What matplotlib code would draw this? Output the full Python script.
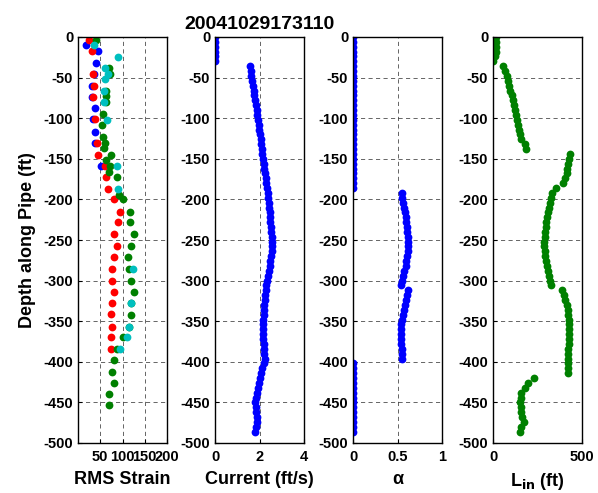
import matplotlib
matplotlib.use("Agg")
import matplotlib.pyplot as plt

plt.rcParams['font.family'] = ['Liberation Sans', 'DejaVu Sans']
plt.rcParams['font.weight'] = 'bold'
plt.rcParams['axes.labelweight'] = 'bold'
plt.rcParams['axes.titleweight'] = 'bold'
plt.rcParams['axes.unicode_minus'] = False

title = "20041029173110"

# RMS strain, four sensors (depth ft, strain)
red_depth = [-4, -17, -46, -60, -74, -101, -131, -145, -159, -172, -187, -200, -215,
             -228, -243, -258, -271, -286, -300, -314, -327, -341, -357, -370, -384]
red_strain = [24, 32, 34, 36, 33, 38, 42, 45, 61, 63, 68, 82, 95,
              90, 81, 87, 82, 77, 77, 80, 77, 74, 77, 74, 74]
blue_depth = [-10, -17, -32, -46, -60, -74, -88, -101, -117, -131, -159]
blue_strain = [19, 44, 40, 35, 32, 31, 38, 34, 38, 39, 52]
green_depth = [-4, -38, -45, -67, -73, -80, -95, -108, -123, -130, -137, -145, -152,
               -159, -166, -172, -194, -200, -215, -228, -243, -258, -271, -286,
               -300, -314, -327, -342, -357, -370, -384, -398, -413, -426, -440, -453]
green_strain = [40, 70, 72, 62, 62, 62, 57, 55, 57, 61, 58, 74, 63,
                72, 70, 87, 92, 100, 117, 117, 125, 120, 113, 114,
                118, 126, 120, 120, 115, 102, 87, 82, 77, 80, 69, 70]
cyan_depth = [-10, -25, -38, -45, -52, -67, -80, -102, -159, -187, -286, -327, -357, -370, -384]
cyan_strain = [35, 89, 61, 68, 61, 58, 58, 65, 87, 91, 123, 118, 115, 110, 95]

# profiles on a common depth grid
depth = [0, -6, -12, -18, -24, -30, -36, -42, -48, -54, -60, -66, -72, -78, -84, -90,
         -96, -102, -108, -114, -120, -126, -132, -138, -144, -150, -156, -162, -168,
         -174, -180, -186, -192, -198, -204, -210, -216, -222, -228, -234, -240, -246,
         -252, -258, -264, -270, -276, -282, -288, -294, -300, -306, -312, -318, -324,
         -330, -336, -342, -348, -354, -360, -366, -372, -378, -384, -390, -396, -402,
         -408, -414, -420, -426, -432, -438, -444, -450, -456, -462, -468, -474, -480, -486]

current = [0, 0, 0, 0, 0, 0,
           1.58, 1.61, 1.64, 1.68, 1.71, 1.74, 1.77, 1.81, 1.85, 1.88, 1.91, 1.93, 1.96,
           1.99, 2.02, 2.05, 2.08, 2.11, 2.13, 2.15, 2.18, 2.21, 2.24, 2.27, 2.30, 2.33,
           2.36, 2.39, 2.41, 2.43, 2.46, 2.47, 2.49, 2.51, 2.53, 2.55, 2.55, 2.55, 2.54,
           2.52, 2.49, 2.46, 2.42, 2.38, 2.35, 2.31, 2.28, 2.26, 2.23, 2.21, 2.19, 2.18,
           2.17, 2.17, 2.17, 2.17, 2.17, 2.18, 2.19, 2.21, 2.24, 2.19, 2.10, 2.06, 2.02,
           1.97, 1.93, 1.88, 1.84, 1.81, 1.83, 1.86, 1.88, 1.87, 1.85, 1.82]

alpha = [0, 0, 0, 0, 0, 0, 0, 0, 0, 0, 0, 0, 0, 0, 0, 0,
         0, 0, 0, 0, 0, 0, 0, 0, 0, 0, 0, 0, 0, 0, 0, 0,
         0.55, 0.555, 0.565, 0.575, 0.585, 0.59, 0.60, 0.605, 0.61, 0.615,
         0.62, 0.62, 0.615, 0.61, 0.60, 0.59, 0.575, 0.565, 0.55, 0.535,
         0.62, 0.61, 0.60, 0.585, 0.57, 0.56, 0.545, 0.54, 0.54, 0.535,
         0.54, 0.54, 0.545, 0.55, 0.555,
         0, 0, 0, 0, 0, 0, 0, 0, 0, 0, 0, 0, 0, 0, 0]

l_in = [15, 15, 15, 15, 13, 0,
        58, 70, 78, 84, 90, 98, 106, 114, 120, 124, 128, 133, 140, 147, 153, 160, 178, 185,
        433, 428, 424, 418, 414, 405, 395, 355, 330, 326, 321, 315, 310, 305, 300, 297,
        294, 290, 287, 286, 290, 294, 298, 303, 308, 316, 322, 328,
        389, 398, 406, 414, 420, 424, 426, 427, 427, 427, 426, 425, 424, 424, 424, 424,
        424, 424,
        229, 198, 180, 160, 155, 153, 155, 160, 165, 172, 160, 153]

fig = plt.figure(figsize=(5.98, 4.93), dpi=100)
W, H = 598, 493
lefts = [78, 215, 353, 493]
axes = [fig.add_axes([l / W, 1 - 443 / H, 89 / W, 406 / H]) for l in lefts]

ms = 5.6
ax = axes[0]
ax.plot(blue_strain, blue_depth, 'o', color='#0000ff', ms=ms, mew=0)
ax.plot(red_strain, red_depth, 'o', color='#ff0000', ms=ms, mew=0)
ax.plot(green_strain, green_depth, 'o', color='#008000', ms=ms, mew=0)
ax.plot(cyan_strain, cyan_depth, 'o', color='#00bfbf', ms=ms, mew=0)
ax.set_xlim(0, 200)
ax.set_xticks([50, 100, 150, 200])
ax.set_xlabel('RMS Strain')
ax.set_ylabel('Depth along Pipe (ft)', fontsize=13, labelpad=5)

ax = axes[1]
ax.plot(current, depth, 'o', color='#0000ff', ms=ms, mew=0)
ax.set_xlim(0, 4)
ax.set_xticks([0, 2, 4])
ax.set_xlabel('Current (ft/s)')
ax.set_title(title, fontsize=14, pad=6)

ax = axes[2]
ax.plot(alpha, depth, 'o', color='#0000ff', ms=ms, mew=0)
ax.set_xlim(0, 1)
ax.set_xticks([0, 0.5, 1])
ax.set_xticklabels(['0', '0.5', '1'])
ax.set_xlabel('\u03b1')

ax = axes[3]
ax.plot(l_in, depth, 'o', color='#008000', ms=ms, mew=0)
ax.set_xlim(0, 500)
ax.set_xticks([0, 500])
ax.set_xlabel('L$_{\\mathbf{in}}$ (ft)')

for ax in axes:
    ax.set_ylim(-500, 0)
    ax.set_yticks(range(-500, 1, 50))
    ax.grid(True, color='black', linestyle=(0, (5, 4)), linewidth=0.6, alpha=0.7)
    ax.tick_params(direction='in', labelsize=10.5, length=3, width=0.8)
    ax.tick_params(axis='x', pad=5)
    ax.xaxis.label.set_size(13)
    ax.xaxis.labelpad = 5
    for lab in ax.get_xticklabels() + ax.get_yticklabels():
        lab.set_fontweight('bold')
        lab.set_fontfamily(['Liberation Sans', 'DejaVu Sans'])
    for s in ax.spines.values():
        s.set_linewidth(1.0)

plt.savefig('out.png', dpi=100, facecolor='white')
